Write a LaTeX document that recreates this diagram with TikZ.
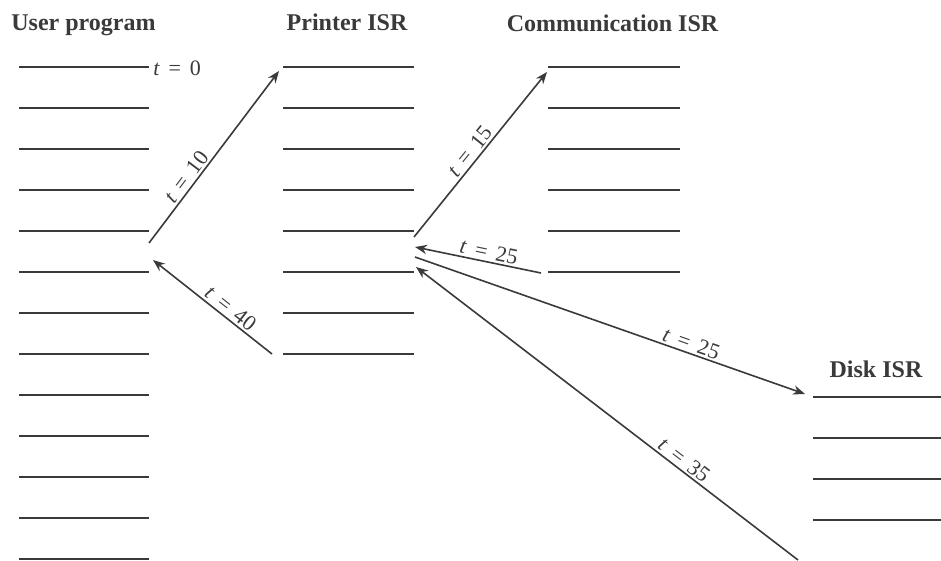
\documentclass[tikz,border=0pt]{standalone}
\usepackage{fontspec}
\setmainfont{Liberation Serif}
\usetikzlibrary{arrows.meta}
\definecolor{ink}{HTML}{3A3A3A}
\newcommand\teq[1]{\textit{t}\hspace{0.4em}=\hspace{0.4em}#1}
\begin{document}
\begin{tikzpicture}[x=0.75pt,y=-0.75pt,
  rule/.style={draw=ink,line width=1.6pt},
  conn/.style={draw=ink,line width=1.2pt},
  fwd/.style={-{Stealth[length=9pt,width=7pt]}},
  bwd/.style={{Stealth[length=9pt,width=7pt]}-},
  title/.style={anchor=base,text=ink,font=\fontsize{18}{20}\selectfont\bfseries,inner sep=0pt},
  tlab/.style={text=ink,font=\fontsize{16.5}{18}\selectfont,inner sep=1.5pt}]
\useasboundingbox (0,0) rectangle (941,560);
% titles
\node[title] (hu) at (83.5,31) {User program};
\node[title] (hp) at (347,31) {Printer ISR};
\node[title] (hc) at (612.5,31.5) {Communication ISR};
\node[title] (hd) at (876,377) {Disk ISR};
% instruction lines
\foreach \k in {0,...,12}{
  \draw[rule] (19,66.7+41*\k) coordinate (ul\k) -- (149,66.7+41*\k) coordinate (ur\k);}
\foreach \k in {0,...,7}{
  \draw[rule] (283,67+41*\k) coordinate (pl\k) -- (414,67+41*\k) coordinate (pr\k);}
\foreach \k in {0,...,5}{
  \draw[rule] (548,67+41*\k) coordinate (cl\k) -- (680,67+41*\k) coordinate (cr\k);}
\foreach \k in {0,...,3}{
  \draw[rule] (813,397+41*\k) coordinate (dl\k) -- (941,397+41*\k) coordinate (dr\k);}
% t = 0
\node[tlab,anchor=base west,inner sep=0pt] (l0) at (153,75) {\teq{0}};
% connector end points
\coordinate (a1s) at (149,243);  \coordinate (a1e) at (279,71);
\coordinate (a2h) at (153,260);  \coordinate (a2t) at (272,354);
\coordinate (a3s) at (414,237);  \coordinate (a3e) at (547,72);
\coordinate (a4h) at (415,247);  \coordinate (a4t) at (541,273);
\coordinate (a5s) at (415,257);  \coordinate (a5e) at (805,394);
\coordinate (a6h) at (416,267);  \coordinate (a6t) at (798,560);
% connectors
\draw[conn,fwd] (a1s) -- node[tlab,above,sloped,pos=0.35] (l10) {\teq{10}} (a1e);
\draw[conn,bwd] (a2h) -- node[tlab,above,sloped,pos=0.6] (l40) {\teq{40}} (a2t);
\draw[conn,fwd] (a3s) -- node[tlab,above,sloped,pos=0.48] (l15) {\teq{15}} (a3e);
\draw[conn,bwd] (a4h) -- node[tlab,above,sloped,pos=0.57] (l25a) {\teq{25}} (a4t);
\draw[conn,fwd] (a5s) -- node[tlab,above,sloped,pos=0.70] (l25b) {\teq{25}} (a5e);
\draw[conn,bwd] (a6h) -- node[tlab,above,sloped,pos=0.686] (l35) {\teq{35}} (a6t);
\end{tikzpicture}
\end{document}
